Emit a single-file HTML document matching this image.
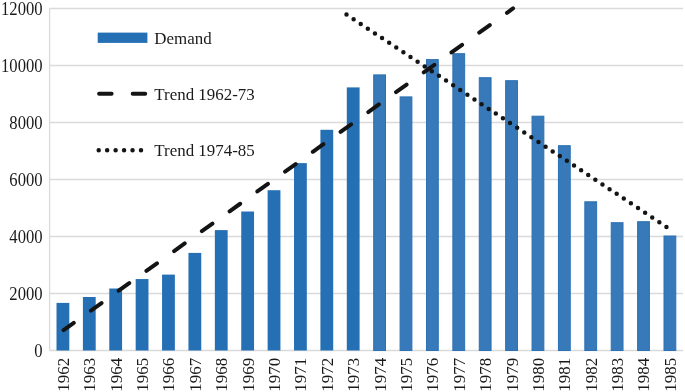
<!DOCTYPE html>
<html><head><meta charset="utf-8"><title>Chart</title>
<style>html,body{margin:0;padding:0;background:#fff;}body{width:685px;height:392px;overflow:hidden;}svg{display:block;will-change:transform;}text{font-family:"Liberation Serif",serif;font-size:17.6px;fill:#1a1a1a;}</style></head>
<body>
<svg width="685" height="392" viewBox="0 0 685 392">
<rect width="685" height="392" fill="#ffffff"/>
<g stroke="#dadada" stroke-width="1.3" fill="none">
<line x1="49.6" y1="350.50" x2="683.0" y2="350.50"/>
<line x1="49.6" y1="293.50" x2="683.0" y2="293.50"/>
<line x1="49.6" y1="236.50" x2="683.0" y2="236.50"/>
<line x1="49.6" y1="179.50" x2="683.0" y2="179.50"/>
<line x1="49.6" y1="122.50" x2="683.0" y2="122.50"/>
<line x1="49.6" y1="65.50" x2="683.0" y2="65.50"/>
<line x1="49.6" y1="8.50" x2="683.0" y2="8.50"/>
<line x1="49.6" y1="8.50" x2="49.6" y2="350.50"/>
</g>
<g>
<rect x="56.50" y="302.90" width="12.80" height="47.60" fill="#2570b5"/>
<rect x="82.89" y="297.00" width="12.80" height="53.50" fill="#2570b5"/>
<rect x="109.28" y="288.50" width="12.80" height="62.00" fill="#2570b5"/>
<rect x="135.67" y="279.05" width="12.80" height="71.45" fill="#2570b5"/>
<rect x="162.06" y="274.60" width="12.80" height="75.90" fill="#2570b5"/>
<rect x="188.45" y="252.90" width="12.80" height="97.60" fill="#2570b5"/>
<rect x="214.85" y="230.10" width="12.80" height="120.40" fill="#2570b5"/>
<rect x="241.24" y="211.50" width="12.80" height="139.00" fill="#2570b5"/>
<rect x="267.63" y="190.20" width="12.80" height="160.30" fill="#2570b5"/>
<rect x="294.02" y="163.10" width="12.80" height="187.40" fill="#2570b5"/>
<rect x="320.41" y="129.80" width="12.80" height="220.70" fill="#2570b5"/>
<rect x="346.80" y="87.40" width="12.80" height="263.10" fill="#2570b5"/>
<rect x="373.70" y="74.90" width="11.80" height="275.60" fill="#3879b9" stroke="#2b71b5" stroke-width="1"/>
<rect x="400.09" y="96.90" width="11.80" height="253.60" fill="#3879b9" stroke="#2b71b5" stroke-width="1"/>
<rect x="426.48" y="59.60" width="11.80" height="290.90" fill="#3879b9" stroke="#2b71b5" stroke-width="1"/>
<rect x="452.87" y="53.70" width="11.80" height="296.80" fill="#3879b9" stroke="#2b71b5" stroke-width="1"/>
<rect x="479.26" y="77.70" width="11.80" height="272.80" fill="#3879b9" stroke="#2b71b5" stroke-width="1"/>
<rect x="505.65" y="80.70" width="11.80" height="269.80" fill="#3879b9" stroke="#2b71b5" stroke-width="1"/>
<rect x="532.05" y="116.20" width="11.80" height="234.30" fill="#3879b9" stroke="#2b71b5" stroke-width="1"/>
<rect x="558.44" y="145.70" width="11.80" height="204.80" fill="#3879b9" stroke="#2b71b5" stroke-width="1"/>
<rect x="584.83" y="201.80" width="11.80" height="148.70" fill="#3879b9" stroke="#2b71b5" stroke-width="1"/>
<rect x="611.22" y="222.70" width="11.80" height="127.80" fill="#3879b9" stroke="#2b71b5" stroke-width="1"/>
<rect x="637.61" y="221.70" width="11.80" height="128.80" fill="#3879b9" stroke="#2b71b5" stroke-width="1"/>
<rect x="664.00" y="236.00" width="11.80" height="114.50" fill="#3879b9" stroke="#2b71b5" stroke-width="1"/>
</g>
<line x1="63.6" y1="330.15" x2="513.05" y2="8.43" stroke="#141414" stroke-width="4" stroke-linecap="round" stroke-dasharray="13 21.11" stroke-dashoffset="0.5"/>
<line x1="346.5" y1="14.5" x2="668.58" y2="228.32" stroke="#141414" stroke-width="4.5" stroke-linecap="round" stroke-dasharray="0 8.534"/>
<rect x="97.7" y="32.6" width="49.7" height="10.3" fill="#2570b5"/>
<line x1="99.1" y1="93.8" x2="145.3" y2="93.8" stroke="#141414" stroke-width="4" stroke-linecap="round" stroke-dasharray="12.5 21.1"/>
<line x1="98.7" y1="150.2" x2="147" y2="150.2" stroke="#141414" stroke-width="4.5" stroke-linecap="round" stroke-dasharray="0 8.46"/>
<text transform="translate(154.3 43.70) scale(0.962 1)">Demand</text>
<text transform="translate(154.3 99.90) scale(0.962 1)">Trend 1962-73</text>
<text transform="translate(154.3 156.10) scale(0.962 1)">Trend 1974-85</text>
<text transform="translate(42.6 356.78) scale(0.925 1)" text-anchor="end" style="font-size:18.0px">0</text>
<text transform="translate(42.6 299.78) scale(0.925 1)" text-anchor="end" style="font-size:18.0px">2000</text>
<text transform="translate(42.6 242.78) scale(0.925 1)" text-anchor="end" style="font-size:18.0px">4000</text>
<text transform="translate(42.6 185.78) scale(0.925 1)" text-anchor="end" style="font-size:18.0px">6000</text>
<text transform="translate(42.6 128.78) scale(0.925 1)" text-anchor="end" style="font-size:18.0px">8000</text>
<text transform="translate(42.6 71.78) scale(0.925 1)" text-anchor="end" style="font-size:18.0px">10000</text>
<text transform="translate(42.6 14.78) scale(0.925 1)" text-anchor="end" style="font-size:18.0px">12000</text>
<text transform="translate(68.85 357.9) rotate(-90) scale(0.962 1)" text-anchor="end">1962</text>
<text transform="translate(95.24 357.9) rotate(-90) scale(0.962 1)" text-anchor="end">1963</text>
<text transform="translate(121.63 357.9) rotate(-90) scale(0.962 1)" text-anchor="end">1964</text>
<text transform="translate(148.02 357.9) rotate(-90) scale(0.962 1)" text-anchor="end">1965</text>
<text transform="translate(174.41 357.9) rotate(-90) scale(0.962 1)" text-anchor="end">1966</text>
<text transform="translate(200.80 357.9) rotate(-90) scale(0.962 1)" text-anchor="end">1967</text>
<text transform="translate(227.20 357.9) rotate(-90) scale(0.962 1)" text-anchor="end">1968</text>
<text transform="translate(253.59 357.9) rotate(-90) scale(0.962 1)" text-anchor="end">1969</text>
<text transform="translate(279.98 357.9) rotate(-90) scale(0.962 1)" text-anchor="end">1970</text>
<text transform="translate(306.37 357.9) rotate(-90) scale(0.962 1)" text-anchor="end">1971</text>
<text transform="translate(332.76 357.9) rotate(-90) scale(0.962 1)" text-anchor="end">1972</text>
<text transform="translate(359.15 357.9) rotate(-90) scale(0.962 1)" text-anchor="end">1973</text>
<text transform="translate(385.55 357.9) rotate(-90) scale(0.962 1)" text-anchor="end">1974</text>
<text transform="translate(411.94 357.9) rotate(-90) scale(0.962 1)" text-anchor="end">1975</text>
<text transform="translate(438.33 357.9) rotate(-90) scale(0.962 1)" text-anchor="end">1976</text>
<text transform="translate(464.72 357.9) rotate(-90) scale(0.962 1)" text-anchor="end">1977</text>
<text transform="translate(491.11 357.9) rotate(-90) scale(0.962 1)" text-anchor="end">1978</text>
<text transform="translate(517.50 357.9) rotate(-90) scale(0.962 1)" text-anchor="end">1979</text>
<text transform="translate(543.90 357.9) rotate(-90) scale(0.962 1)" text-anchor="end">1980</text>
<text transform="translate(570.29 357.9) rotate(-90) scale(0.962 1)" text-anchor="end">1981</text>
<text transform="translate(596.68 357.9) rotate(-90) scale(0.962 1)" text-anchor="end">1982</text>
<text transform="translate(623.07 357.9) rotate(-90) scale(0.962 1)" text-anchor="end">1983</text>
<text transform="translate(649.46 357.9) rotate(-90) scale(0.962 1)" text-anchor="end">1984</text>
<text transform="translate(675.85 357.9) rotate(-90) scale(0.962 1)" text-anchor="end">1985</text>
</svg>
</body></html>
